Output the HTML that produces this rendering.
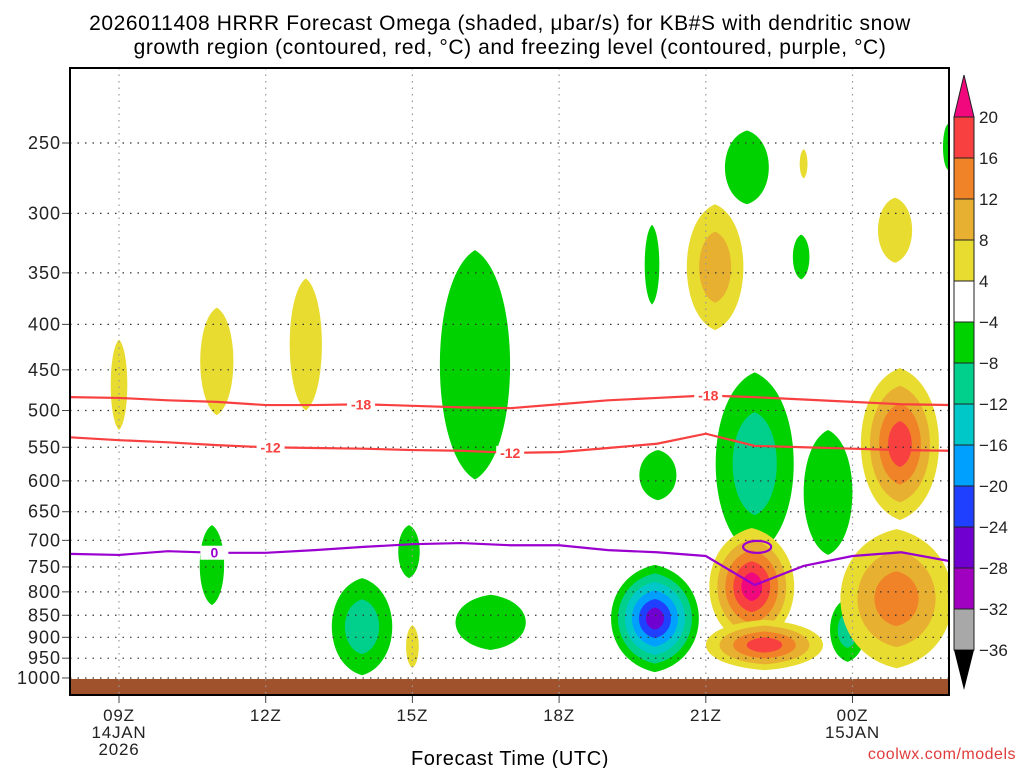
<!DOCTYPE html>
<html><head><meta charset="utf-8"><style>
body{margin:0;background:#fff;}
svg text{font-family:"Liberation Sans","DejaVu Sans",sans-serif;}
</style></head><body>
<svg id="c" width="1024" height="768" viewBox="0 0 1024 768" xmlns="http://www.w3.org/2000/svg">
<text x="500" y="30" font-size="21" letter-spacing="0.6" text-anchor="middle">2026011408 HRRR Forecast Omega (shaded, μbar/s) for KB#S with dendritic snow</text>
<text x="510" y="54" font-size="21" letter-spacing="0.6" text-anchor="middle">growth region (contoured, red, °C) and freezing level (contoured, purple, °C)</text>
<g id="plot"></g>
<g id="cbar"></g>
<text x="510" y="765" font-size="20" letter-spacing="0.6" text-anchor="middle">Forecast Time (UTC)</text>
<text x="1016" y="759" font-size="16" letter-spacing="0.5" text-anchor="end" fill="#e03c3c">coolwx.com/models</text>
</svg>
<script>
const pTicks=[250,300,350,400,450,500,550,600,650,700,750,800,850,900,950,1000];
const hTicks=[9,12,15,18,21,24];
const hTickLabels=["09Z","12Z","15Z","18Z","21Z","00Z"];
const hDateLabels=[["14JAN","2026"],[],[],[],[],["15JAN"]];
const lineHours=[8,9,10,11,12,13,14,15,16,17,18,19,20,21,22,23,24,25,26];
const minus18=[483,484,487,489,493,493,492,494,496,497,492,487,484,481,483,486,489,492,493];
const minus12=[536,540,543,547,550,551,552,554,555,558,557,551,545,531,548,550,552,554,555];
const freezing=[725,727,720,723,723,718,712,707,705,709,709,718,722,729,786,748,729,722,739];
const cbLevels=["20","16","12","8","4","−4","−8","−12","−16","−20","−24","−28","−32","−36"];
const cbColors=["#f84040","#f08228","#e8b030","#e8dc30","#ffffff","#00d200","#00d08c","#00c8c8","#00a0ff","#2040ff","#7000d0","#a000c0","#a8a8a8"];
// blobs: [centerHour, halfWidthHours, pTop, pBottom, levels (colour indices, outer→inner)]
const blobHour=[9.0,11.0,12.82,10.9,14.93,13.97,15.0,16.28,16.6,19.9,20.02,19.96,21.19,21.84,22.0,23.5,21.94,22.2,23.9,24.97,24.9,24.87,22.95,23.0,25.95];
const blobHalfW=[0.17,0.34,0.33,0.25,0.22,0.62,0.13,0.72,0.72,0.15,0.38,0.9,0.58,0.45,0.8,0.5,0.87,1.2,0.36,0.8,1.15,0.35,0.17,0.08,0.1];
const blobTop=[416,383,355,673,673,772,872,330,806,309,554,746,293,242,453,526,678,860,813,448,680,288,317,254,238];
const blobBot=[526,506,500,828,772,993,974,598,930,380,631,985,406,293,727,727,919,980,959,664,975,341,356,274,268];
const blobLevels=[[3],[3],[3],[5],[5],[5,6],[3],[5],[5],[5],[5],[5,6,7,8,9,10],[3,2],[5],[5,6],[5],[3,2,1,0,-1],[3,2,1,0],[5,6],[3,2,1,0],[3,2,1],[3],[5],[3],[5]];
const magenta="#f0087c";

const L=70,R=949,T=68,B=695;
const X=h=>119+(h-9)*48.9;
const Y=p=>143+Math.log(p/250)*385.9;
const NS="http://www.w3.org/2000/svg";
function mk(tag,attrs,parent){const e=document.createElementNS(NS,tag);for(const k in attrs)e.setAttribute(k,attrs[k]);parent.appendChild(e);return e;}
const plot=document.getElementById('plot'),cb=document.getElementById('cbar');
const defs=mk('defs',{},plot);const cp=mk('clipPath',{id:'clip'},defs);mk('rect',{x:L,y:T,width:R-L,height:B-T},cp);
const inner=mk('g',{'clip-path':'url(#clip)'},plot);
function lens(cx,top,bot,w){const hgt=bot-top,k=1.33,a=0.12;
return `M${cx},${top} C${cx+w*k},${top+hgt*a} ${cx+w*k},${bot-hgt*a} ${cx},${bot} C${cx-w*k},${bot-hgt*a} ${cx-w*k},${top+hgt*a} ${cx},${top}Z`;}
for(let i=0;i<blobHour.length;i++){
 const cx=X(blobHour[i]),w=blobHalfW[i]*48.9,yt=Y(blobTop[i]),yb=Y(blobBot[i]),cy=(yt+yb)/2,hh=(yb-yt)/2;
 const lv=blobLevels[i],n=lv.length;
 for(let j=0;j<n;j++){const f=1-j/(n+0.3);
  const el=mk('path',{d:lens(cx,cy-hh*f,cy+hh*f,w*f),fill:lv[j]<0?magenta:cbColors[lv[j]]},inner);
  
  }
}
const g=mk('rect',{x:L,y:Y(1000)+1,width:R-L,height:B-Y(1000)-1,fill:'#a0522d'},inner);

pTicks.forEach(p=>{const y=Y(p);
 const gl=mk('line',{x1:L,x2:R,y1:y,y2:y,stroke:'#333','stroke-width':1.2,'stroke-dasharray':'1.5 6'},inner);
 
 mk('line',{x1:L-8,x2:L,y1:y,y2:y,stroke:'#444'},plot);
 const t=mk('text',{x:L-9,y:y+6,'font-size':18,'letter-spacing':1,'text-anchor':'end',fill:'#222'},plot);t.textContent=p;
 });
hTicks.forEach((h,i)=>{const x=X(h);
 const gl=mk('line',{x1:x,x2:x,y1:T,y2:B,stroke:'#999','stroke-width':1.2,'stroke-dasharray':'1.5 5'},inner);
 
 mk('line',{x1:x,x2:x,y1:B,y2:B+8,stroke:'#444'},plot);
 const t=mk('text',{x:x,y:721,'font-size':17,'letter-spacing':0.8,'text-anchor':'middle',fill:'#222'},plot);t.textContent=hTickLabels[i];
 
 hDateLabels[i].forEach((s,k)=>{const d=mk('text',{x:x,y:738+k*17,'font-size':17,'letter-spacing':0.8,'text-anchor':'middle',fill:'#222'},plot);d.textContent=s;
  });});
function drawLine(arr,color,name,labels,lab){
 const pts=lineHours.map((h,i)=>X(h)+','+Y(arr[i])).join(' ');
 const pl=mk('polyline',{points:pts,fill:'none',stroke:color,'stroke-width':2.2},inner);
 
 labels.forEach(h=>{const i0=Math.floor(h-8),f=h-8-i0;const p=arr[i0]*(1-f)+arr[i0+1]*f;
  mk('rect',{x:X(h)-14,y:Y(p)-7,width:28,height:14,fill:'#fff'},inner);
  const t=mk('text',{x:X(h),y:Y(p)+5,'font-size':14,'font-weight':'bold','text-anchor':'middle',fill:color},inner);t.textContent=lab;
  });}
drawLine(minus18,'#f84040','contour-minus18',[13.95,21.05],'-18');
drawLine(minus12,'#f84040','contour-minus12',[12.1,17.0],'-12');
drawLine(freezing,'#9a00d0','freezing-level',[10.95],'0');
const fl=mk('ellipse',{cx:X(22.05),cy:Y(712),rx:14,ry:6,fill:'none',stroke:'#9a00d0','stroke-width':2.2},inner);

mk('rect',{x:L,y:T,width:R-L,height:B-T,fill:'none',stroke:'#000','stroke-width':2},plot);
const cx0=954,cw=20,top0=117,bh=41;
cbColors.forEach((c,i)=>{const r=mk('rect',{x:cx0,y:top0+i*bh,width:cw,height:bh,fill:c,stroke:'#222','stroke-width':1},cb);
 });
const bot0=top0+cbColors.length*bh;
mk('polygon',{points:`${cx0},${top0} ${cx0+cw},${top0} ${cx0+cw/2},75`,fill:magenta,stroke:'#222'},cb);
mk('polygon',{points:`${cx0},${bot0} ${cx0+cw},${bot0} ${cx0+cw/2},690`,fill:'#000'},cb);
cbLevels.forEach((s,i)=>{const t=mk('text',{x:979,y:top0+i*bh+6,'font-size':17,fill:'#222'},cb);t.textContent=s;
 });
</script>
</body></html>
